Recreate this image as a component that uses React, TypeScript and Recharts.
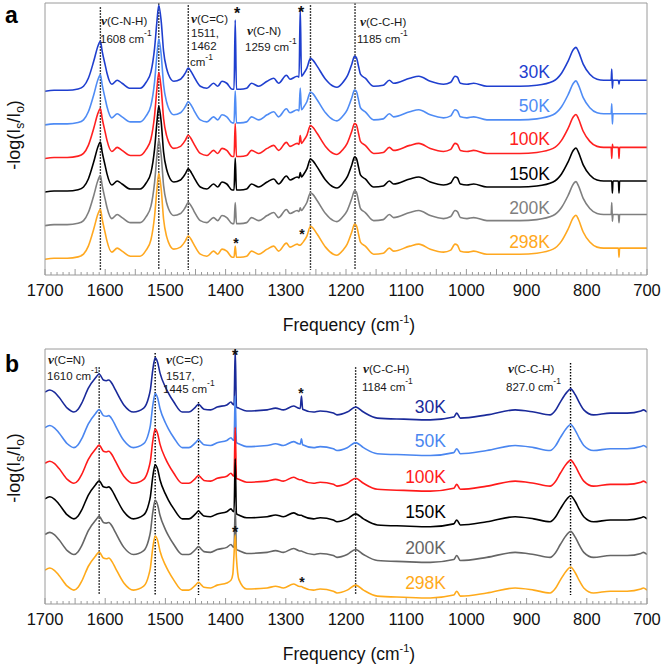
import { LineChart, Line, XAxis, YAxis, ReferenceLine } from 'recharts'

const temps = ['30K', '50K', '100K', '150K', '200K', '298K']
const offsets = [5, 4, 3, 2, 1, 0]
const colorsA = ['#1f3fcf', '#4f8cf5', '#ff2020', '#000000', '#7f7f7f', '#ffa820']
const colorsB = ['#1a2a9a', '#4a86f0', '#ff1a1a', '#000000', '#666666', '#ffaa1a']

const tickLabels = [1700, 1600, 1500, 1400, 1300, 1200, 1100, 1000, 900, 800, 700]
const allTicks = Array.from({ length: 101 }, (_, i) => 700 + i * 10)

// panel a: wavenumber and shared band profile (30K trace relative to its baseline)
const freqA = [
  1700, 1685, 1663, 1645, 1636, 1628, 1619, 1612, 1608, 1605, 1600, 1597, 1589, 1580, 1572, 1558, 1542, 1532, 1524,
  1518, 1514, 1511, 1507, 1503, 1498, 1495, 1486, 1475, 1467, 1462, 1457, 1453, 1442, 1431, 1420, 1413, 1406, 1398,
  1389, 1386, 1384, 1382, 1376, 1365, 1357, 1345, 1331, 1320, 1312, 1299, 1293, 1281, 1278, 1276, 1274, 1270, 1265,
  1259, 1255, 1248, 1234, 1221, 1215, 1205, 1198, 1190, 1186, 1183, 1179, 1176, 1168, 1154, 1138, 1128, 1121, 1094,
  1079, 1060, 1038, 1026, 1019, 1015, 1010, 999, 988, 966, 938, 911, 883, 856, 842, 831, 822, 818, 814, 806, 795, 783,
  772, 762, 759.5, 758.5, 757.5, 756.5, 752, 748.5, 747.5, 746.5, 745.5, 730, 710, 700,
]
const profileA = [
  -0.33, -0.3, -0.3, -0.26, -0.18, 0.06, 0.57, 1.02, 1.16, 0.86, 0.45, 0.21, -0.12, 0.0, -0.09, -0.24, -0.24, -0.06, 0.25,
  0.95, 1.76, 2.23, 1.76, 0.86, 0.35, 0.18, -0.03, 0.03, 0.21, 0.36, 0.25, 0.12, -0.18, -0.24, -0.09, -0.18, -0.03, -0.09,
  -0.27, -0.27, -0.27, -0.27, -0.27, -0.24, -0.09, -0.18, -0.03, 0.06, -0.09, 0.15, 0.03, 0.12, 0.09, 0.09, 0.12, 0.21, 0.36,
  0.65, 0.6, 0.42, 0.03, -0.18, -0.21, -0.06, 0.12, 0.5, 0.71, 0.68, 0.4, 0.18, 0.06, -0.18, -0.15, 0.0, -0.09, 0.06,
  0.12, -0.03, -0.12, -0.06, 0.12, 0.09, -0.09, -0.12, -0.09, -0.18, -0.18, -0.18, -0.15, -0.03, 0.21, 0.57, 0.92, 0.98, 0.86, 0.48, 0.18, 0.03,
  0.0, 0.0, 0.0, 0.0, 0.0, 0.0, 0.0, 0.0, 0.0, 0.0, 0.0, 0.0, 0.0, 0.0,
]
// sharp artefact lines per temperature: [wavenumber, value]
const spikesA: Record<string, [number, number][]> = {
  '30K': [[1384, 1.79], [1276, 2.14], [758.5, 0.33], [757.5, -0.24], [746.5, -0.12]],
  '50K': [[1384, 0.68], [1276, 0.77], [758.5, 0.3], [757.5, -0.3]],
  '100K': [[1384, 0.71], [1276, 0.35], [758.5, -0.33], [757.5, 0.09], [746.5, -0.33]],
  '150K': [[1384, 0.68], [1276, 0.25], [757.5, -0.36], [746.5, -0.36]],
  '200K': [[1384, 0.36], [1276, 0.2], [758.5, 0.36], [757.5, -0.2], [746.5, -0.24]],
  '298K': [[1384, 0.06], [746.5, -0.27]],
}
const markersA: [number, number, number][] = [
  [1608, 7.17, -0.65], [1511, 7.29, -0.65], [1462, 7.23, -0.65], [1259, 7.23, -0.65], [1185, 7.29, -0.65],
]

// panel b
const freqB = [
  1700, 1692, 1684, 1677, 1663, 1652, 1645, 1639, 1628, 1616, 1610, 1603, 1598, 1594, 1588, 1583, 1569, 1553, 1536,
  1528, 1525, 1521, 1517, 1513, 1509, 1500, 1495, 1486, 1472, 1461, 1450, 1445, 1440, 1436, 1425, 1414, 1398, 1391,
  1388, 1386, 1384, 1382, 1378, 1365, 1331, 1317, 1304, 1287, 1279, 1276, 1274, 1272, 1254, 1243, 1221, 1215, 1198,
  1184, 1171, 1148, 1104, 1060, 1021, 1016, 1010, 966, 919, 888, 861, 852, 844, 833, 827, 819, 812, 805, 789, 761, 733,
  710, 706, 700,
]
const profileB = [
  0.56, 0.62, 0.55, 0.42, 0.11, 0.0, 0.08, 0.25, 0.67, 0.96, 1.07, 0.9, 0.88, 0.9, 0.78, 0.62, 0.2, 0.0, 0.11,
  0.4, 0.62, 1.18, 1.52, 1.4, 1.1, 0.7, 0.53, 0.28, 0.0, 0.0, 0.14, 0.22, 0.14, 0.08, 0.06, 0.14, 0.2, 0.28,
  0.22, 0.2, 0.18, 0.14, 0.11, 0.03, 0.06, 0.11, 0.06, 0.17, 0.11, 0.1, 0.1, 0.08, 0.0, 0.03, -0.03, -0.08, 0.0,
  0.14, 0.0, -0.17, -0.2, -0.22, -0.14, -0.03, -0.17, -0.08, 0.06, 0.0, -0.08, 0.05, 0.28, 0.56, 0.65, 0.48, 0.25, 0.06, -0.08, -0.03, -0.03,
  0.03, 0.06, 0.0,
]
const spikesB: Record<string, [number, number][]> = {
  '30K': [[1384, 1.75], [1274, 0.45]],
  '50K': [[1384, 1.46], [1274, 0.25]],
  '100K': [[1384, 1.57]],
  '150K': [[1384, 1.69]],
  '200K': [[1384, 1.3]],
  '298K': [[1388, 0.45], [1386, 1.0], [1384, 1.55], [1382, 0.9], [1378, 0.3]],
}
const markersB: [number, number, number][] = [
  [1610, 6.26, -0.14], [1517, 6.66, -0.14], [1445, 5.28, -0.14], [1184, 6.26, -0.14], [827, 6.38, -0.14],
]

const axisColor = '#9a9a9a'
const font = 'Liberation Sans, Arial, sans-serif'
const annSize = 11.5

function buildRows(freq: number[], profile: number[], spikes: Record<string, [number, number][]>) {
  return freq.map((f, i) => {
    const row: Record<string, number> = { f }
    temps.forEach((t, k) => {
      const hit = spikes[t]?.find(([sf]) => sf === f)
      row[t] = (hit ? hit[1] : profile[i]) + offsets[k]
    })
    return row
  })
}

const rowsA = buildRows(freqA, profileA, spikesA)
const rowsB = buildRows(freqB, profileB, spikesB)

const BottomTick = ({ x, y, payload }: any) => {
  const v = payload.value
  return (
    <g>
      <line x1={x} x2={x} y1={y} y2={y - (v % 50 === 0 ? 6 : 3)} stroke={axisColor} />
      {tickLabels.includes(v) && (
        <text x={x} y={y + 21} textAnchor="middle" fontSize={16.5} fill="#111" fontFamily={font}>{v}</text>
      )}
    </g>
  )
}

const TopTick = ({ x, y, payload }: any) => {
  const v = payload.value
  return <line x1={x} x2={x} y1={y} y2={y + (v % 50 === 0 ? 6 : 3)} stroke={axisColor} />
}

function Panel({ rows, colors, domain, markers, top, height, bottom }: any) {
  return (
    <div style={{ position: 'absolute', left: 0, top }}>
      <LineChart width={663} height={height} data={rows} margin={{ top: 0, right: 0, bottom, left: 0 }}>
        <XAxis dataKey="f" type="number" domain={[700, 1700]} reversed allowDataOverflow ticks={allTicks} interval={0}
          tickLine={false} tickSize={0} tickMargin={0} axisLine={{ stroke: axisColor }} tick={<BottomTick />} height={30} />
        <XAxis xAxisId="top" orientation="top" type="number" domain={[700, 1700]} reversed allowDataOverflow ticks={allTicks}
          interval={0} tickLine={false} tickSize={0} tickMargin={0} axisLine={{ stroke: axisColor }} tick={<TopTick />} height={3} />
        <YAxis type="number" domain={domain} allowDataOverflow tick={false} tickLine={false} width={45} axisLine={{ stroke: axisColor }} />
        <YAxis yAxisId="r" orientation="right" type="number" domain={domain} allowDataOverflow tick={false} tickLine={false}
          width={16} axisLine={{ stroke: axisColor }} />
        {markers.map(([f, y1, y2]: number[]) => (
          <ReferenceLine key={f} segment={[{ x: f, y: y1 }, { x: f, y: y2 }]} stroke="#000" strokeWidth={1.4} strokeDasharray="1.5 1.5" />
        ))}
        {temps.map((t, k) => (
          <Line key={t} dataKey={t} type="monotone" stroke={colors[k]} strokeWidth={1.6} dot={false} isAnimationActive={false} />
        ))}
      </LineChart>
    </div>
  )
}

const Nu = ({ x, y, label }: any) => (
  <text x={x} y={y} fontSize={annSize} fill="#1a1a1a">
    <tspan fontFamily="Liberation Serif, serif" fontWeight="bold" fontStyle="italic" fontSize={13.5}>ν</tspan>{label}
  </text>
)

const Wn = ({ x, y, label, rise = 7 }: any) => (
  <text x={x} y={y} fontSize={annSize} fill="#1a1a1a">
    {label}<tspan fontSize={8.5} dy={-rise}>-1</tspan>
  </text>
)

const Star = ({ x, y, size = 16 }: any) => (
  <text x={x} y={y} textAnchor="middle" fontSize={size} fontWeight="bold" fill="#111">*</text>
)

export default function App() {
  return (
    <div style={{ position: 'absolute', left: 0, top: 0, width: 663, height: 665, background: '#fff', fontFamily: font }}>
      <Panel rows={rowsA} colors={colorsA} domain={[-0.8, 7.3]} markers={markersA} top={0} height={340} bottom={35} />
      <Panel rows={rowsB} colors={colorsB} domain={[-0.39, 6.77]} markers={markersB} top={346} height={320} bottom={32} />
      <svg width={663} height={665} style={{ position: 'absolute', left: 0, top: 0, pointerEvents: 'none' }} fontFamily={font}>
        <text x={5} y={23} fontSize={23} fontWeight="bold" fill="#000">a</text>
        <text x={5} y={372} fontSize={23} fontWeight="bold" fill="#000">b</text>

        {[135, 468].map(cy => (
          <text key={cy} transform={`translate(20,${cy}) rotate(-90)`} textAnchor="middle" fontSize={18} fill="#111">
            -log(I<tspan fontSize={12} dy={4}>s</tspan><tspan dy={-4}>/I</tspan><tspan fontSize={12} dy={4}>o</tspan><tspan dy={-4}>)</tspan>
          </text>
        ))}
        {[331, 660].map(by => (
          <text key={by} x={349} y={by} textAnchor="middle" fontSize={17.5} fill="#111">
            Frequency (cm<tspan fontSize={11} dy={-8}>-1</tspan><tspan dy={8}>)</tspan>
          </text>
        ))}

        {/* panel a annotations */}
        <Nu x={101} y={25} label="(C-N-H)" />
        <Wn x={100} y={43} label="1608 cm" />
        <Nu x={191} y={23} label="(C=C)" />
        <text x={191} y={37} fontSize={annSize} fill="#1a1a1a">1511,</text>
        <text x={191} y={50} fontSize={annSize} fill="#1a1a1a">1462</text>
        <Wn x={190} y={66} label="cm" rise={6} />
        <Nu x={247} y={35} label="(C-N)" />
        <Wn x={245} y={51} label="1259 cm" />
        <Nu x={360} y={26} label="(C-C-H)" />
        <Wn x={357} y={43} label="1185 cm" />
        <Star x={237} y={19} />
        <Star x={301} y={18} />
        <Star x={236} y={248} size={14} />
        <Star x={302} y={239} size={14} />

        {/* panel b annotations */}
        <Nu x={48} y={364} label="(C=N)" />
        <Wn x={47} y={380} label="1610 cm" />
        <Nu x={166} y={364} label="(C=C)" />
        <text x={166} y={380} fontSize={annSize} fill="#1a1a1a">1517,</text>
        <Wn x={163} y={393} label="1445 cm" />
        <Nu x={363} y={373} label="(C-C-H)" />
        <Wn x={362} y={391} label="1184 cm" />
        <Nu x={508} y={373} label="(C-C-H)" />
        <Wn x={506} y={391} label="827.0 cm" />
        <Star x={235} y={361} />
        <Star x={301} y={398} size={14} />
        <Star x={235} y={538} />
        <Star x={302} y={587} size={14} />

        {temps.map((t, k) => (
          <text key={'a' + t} x={550} y={[78, 112, 145, 180, 214, 248][k]} textAnchor="end" fontSize={17.5} fill={colorsA[k]}>{t}</text>
        ))}
        {temps.map((t, k) => (
          <text key={'b' + t} x={446} y={[413, 447, 483, 518, 554, 589][k]} textAnchor="end" fontSize={17.5} fill={colorsB[k]}>{t}</text>
        ))}
      </svg>
    </div>
  )
}
